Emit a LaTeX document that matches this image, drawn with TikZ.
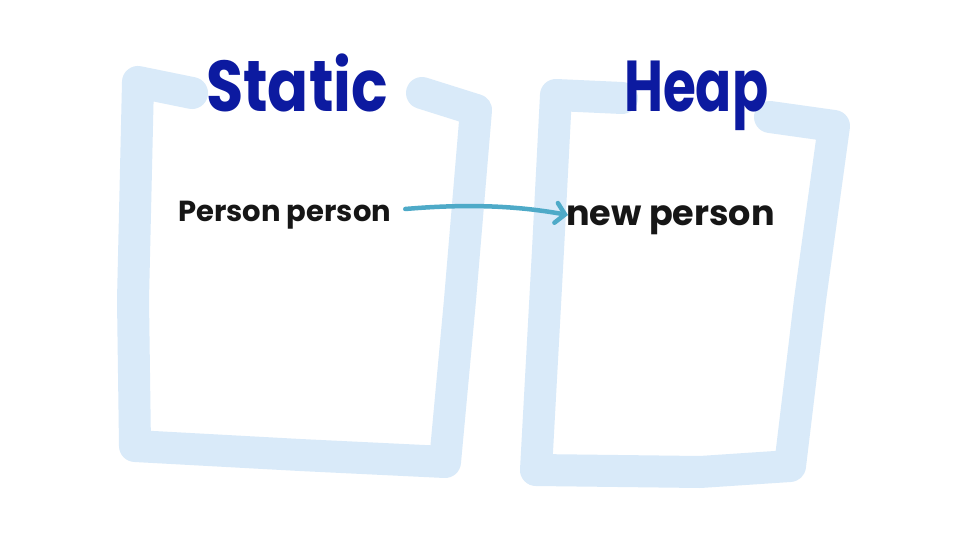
\documentclass[tikz,border=0pt]{standalone}
\usepackage{fontspec}
\setmainfont{Poppins}
\usetikzlibrary{arrows.meta}
\definecolor{boxblue}{RGB}{217,234,249}
\definecolor{titleblue}{RGB}{12,26,160}
\definecolor{arrowblue}{RGB}{78,170,200}
\definecolor{inkblack}{RGB}{22,22,22}
\tikzset{
  boxline/.style={draw=boxblue,line width=32pt,line cap=round,line join=round},
  titletext/.style={text=titleblue,font=\fontsize{72}{72}\selectfont\bfseries,inner sep=0pt},
  inktext/.style={text=inkblack,font=\fontsize{29}{29}\selectfont\bfseries,inner sep=0pt},
  arrowline/.style={draw=arrowblue,line width=4.5pt,line cap=round,-{Straight Barb[length=9pt,width=20pt,line cap=round]}}
}
\begin{document}
\begin{tikzpicture}[x=1pt,y=-1pt]
\useasboundingbox[fill=white] (0,0) rectangle (956,540);
% Static box
\draw[boxline] (192,93) -- (138,82) -- (133,300) -- (135,446) -- (300,455) -- (445,462) -- (460,300) -- (476,110) -- (422,93);
% Heap box
\draw[boxline] (622,98) -- (556,95) -- (548,250) -- (536,470) -- (700,472) -- (790,466) -- (810,300) -- (834,126) -- (770,117);
% titles
\node[titletext,anchor=base west] (st) at (206,112) {\scalebox{0.84}[1]{Static}};
\node[titletext,anchor=base west] (hp) at (624,112) {\scalebox{0.74}[1]{Heap}};
% texts
\node[inktext,anchor=base west] (pp) at (178,222) {Person person};
\node[inktext,anchor=base west,font=\fontsize{35}{35}\selectfont\bfseries] (np) at (566,226) {new person};
% arrow
\draw[arrowline] ([shift={(14,-13)}]pp.base east) .. controls +(70,-6) and +(-45,-8) .. ([shift={(2,-11)}]np.base west);
\end{tikzpicture}
\end{document}
